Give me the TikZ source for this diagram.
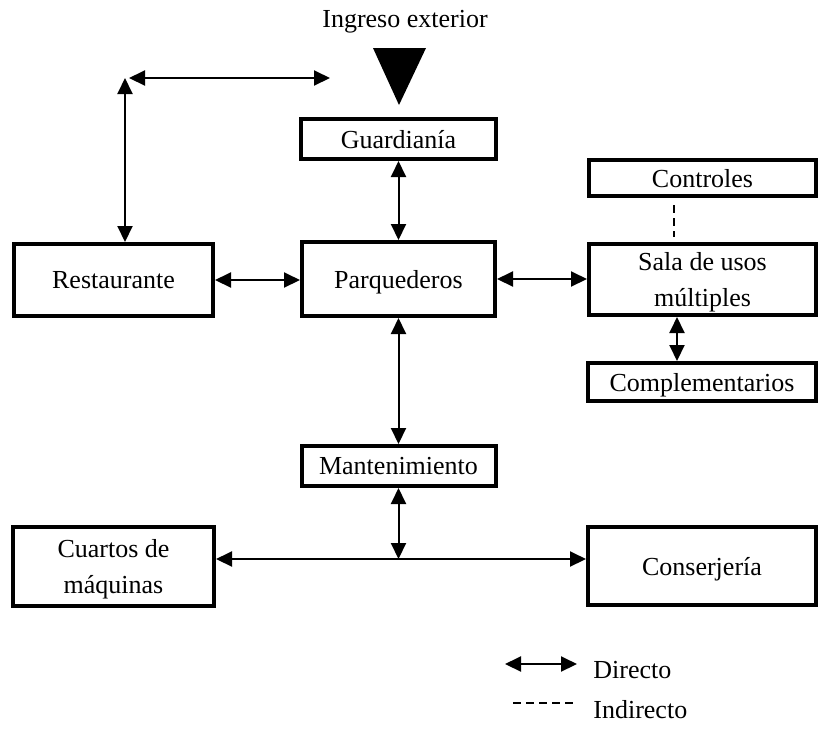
\documentclass[tikz,border=0pt]{standalone}
\usepackage{fontspec}
\setmainfont{Liberation Serif}
\usetikzlibrary{arrows.meta}

\begin{document}
\begin{tikzpicture}[x=0.5pt,y=-0.5pt,
  caja/.style={draw,line width=2pt,inner sep=0pt,align=center,text depth=0pt,font=\fontsize{13}{18}\selectfont},
  texto/.style={inner sep=0pt,font=\fontsize{13}{18}\selectfont},
  flecha/.style={line width=1pt,>={Triangle[length=8pt,width=7.5pt]},<->},
  punteada/.style={line width=0.75pt,dash pattern=on 4pt off 2.5pt}]
\useasboundingbox (0,0) rectangle (819,735);

% Ingreso
\node[texto,anchor=base] (ingreso) at (405,27) {Ingreso exterior};
\fill (373,48) -- (426,48) -- (399,105) -- cycle;

% Cajas
\node[caja,minimum width=97.5pt,minimum height=20pt] (guardiania) at (398.5,139) {Guardianía};
\node[caja,minimum width=99.5pt,minimum height=36pt] (restaurante) at (113.5,280) {Restaurante};
\node[caja,minimum width=96.5pt,minimum height=37pt] (parqueaderos) at (398.5,279) {Parquederos};
\node[caja,minimum width=113.5pt,minimum height=35.5pt] (sala) at (702.5,279.5) {Sala de usos\\múltiples};
\node[caja,minimum width=113.5pt,minimum height=18pt] (controles) at (702.5,178) {Controles};
\node[caja,minimum width=114pt,minimum height=19pt] (complementarios) at (702,382) {Complementarios};
\node[caja,minimum width=97pt,minimum height=20pt] (mantenimiento) at (398.5,466) {Mantenimiento};
\node[caja,minimum width=100.5pt,minimum height=39.5pt] (cuartos) at (113.5,566.5) {Cuartos de\\máquinas};
\node[caja,minimum width=114pt,minimum height=39pt] (conserjeria) at (702,566) {Conserjería};

% Puntos libres
\coordinate (esquina) at (125,78);
\coordinate (salida) at (330,78);
\coordinate (cruce) at (398.5,559);

% Conexiones directas
\draw[flecha] (esquina) -- (esquina |- restaurante.north);
\draw[flecha] ([xshift=2pt]esquina) -- (salida);
\draw[flecha] (guardiania.south) -- (parqueaderos.north);
\draw[flecha] (restaurante.east) -- (restaurante.east -| parqueaderos.west);
\draw[flecha] (parqueaderos.east) -- (parqueaderos.east -| sala.west);
\draw[flecha] ([xshift=-12.75pt]sala.south) -- ([xshift=-12.75pt]sala.south |- complementarios.north);
\draw[flecha] (parqueaderos.south) -- (mantenimiento.north);
\draw[flecha] (mantenimiento.south) -- (cruce);
\draw[flecha] (cruce -| cuartos.east) -- (cruce -| conserjeria.west);

% Conexion indirecta
\draw[punteada,shorten <=3.5pt,shorten >=2.5pt] ([xshift=-14.25pt]controles.south) -- ([xshift=-14.25pt]controles.south |- sala.north);

% Leyenda
\node[texto,anchor=base west] (directo) at (593,678) {Directo};
\node[texto,anchor=base west] (indirecto) at (593,718) {Indirecto};
\coordinate (ley1) at (505,664);
\coordinate (ley2) at (513,703);
\draw[flecha] (ley1) -- (ley1 -| 577,0);
\draw[punteada] (ley2) -- (ley2 -| 575,0);

\end{tikzpicture}
\end{document}
